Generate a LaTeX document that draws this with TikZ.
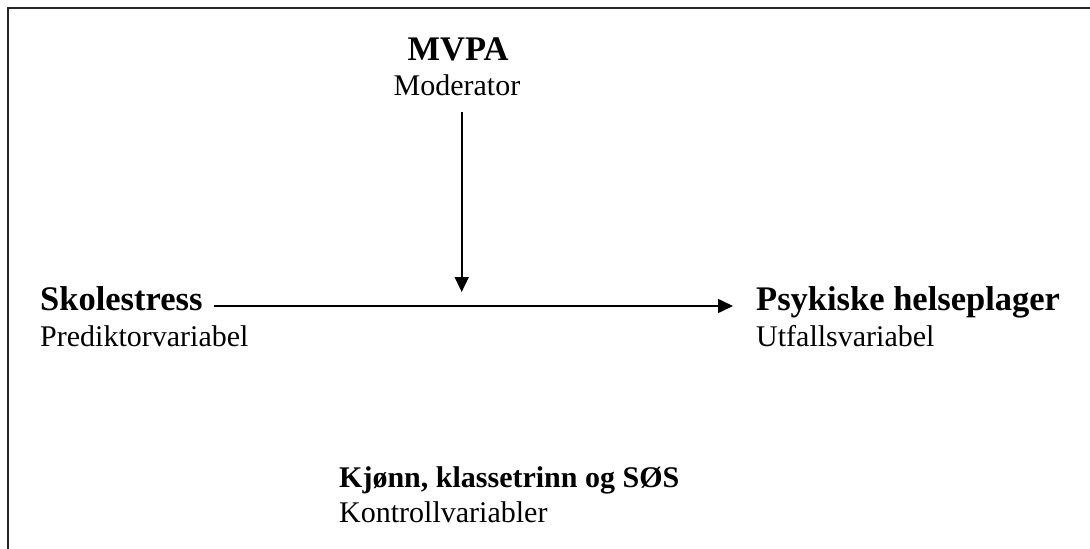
\documentclass[tikz,border=0pt]{standalone}
\usepackage{fontspec}
\setmainfont{Liberation Serif}
\usetikzlibrary{arrows.meta}
\begin{document}
\begin{tikzpicture}[x=1pt,y=-1pt,
  big/.style={inner sep=0pt,anchor=base west,font=\fontsize{34.5}{40}\selectfont\bfseries},
  bigc/.style={inner sep=0pt,anchor=base,font=\fontsize{34.5}{40}\selectfont\bfseries},
  boldsm/.style={inner sep=0pt,anchor=base west,font=\fontsize{30}{36}\selectfont\bfseries},
  sub/.style={inner sep=0pt,anchor=base west,font=\fontsize{30}{36}\selectfont},
  subc/.style={inner sep=0pt,anchor=base,font=\fontsize{30}{36}\selectfont},
  arr/.style={line width=1.6pt,-{Triangle[width=14pt,length=15pt]}},
  frame/.style={line width=1.8pt,black!85}]
\useasboundingbox (0,0) rectangle (1090,549);
\draw[frame] (8,551) -- (8,8) -- (1092,8);
\node[bigc] (mvpa) at (458,60) {MVPA};
\node[subc] (mod) at (457,95) {Moderator};
\node[big] (sk) at (40,310) {Skolestress};
\node[sub] (pred) at (40,346) {Prediktorvariabel};
\node[big] (ps) at (756,310) {Psykiske helseplager};
\node[sub] (utf) at (756,346) {Utfallsvariabel};
\node[boldsm] (kj) at (339,487) {Kjønn, klassetrinn og SØS};
\node[sub] (kon) at (339,522) {Kontrollvariabler};
\coordinate (mid) at (461.7,306);
\draw[arr] ([shift={(11,-4)}]sk.base east) -- ([shift={(-23,-4)}]ps.base west);
\draw[arr] ([yshift=-17pt]mod.base -| mid) -- ([yshift=14pt]mid);
\end{tikzpicture}
\end{document}
